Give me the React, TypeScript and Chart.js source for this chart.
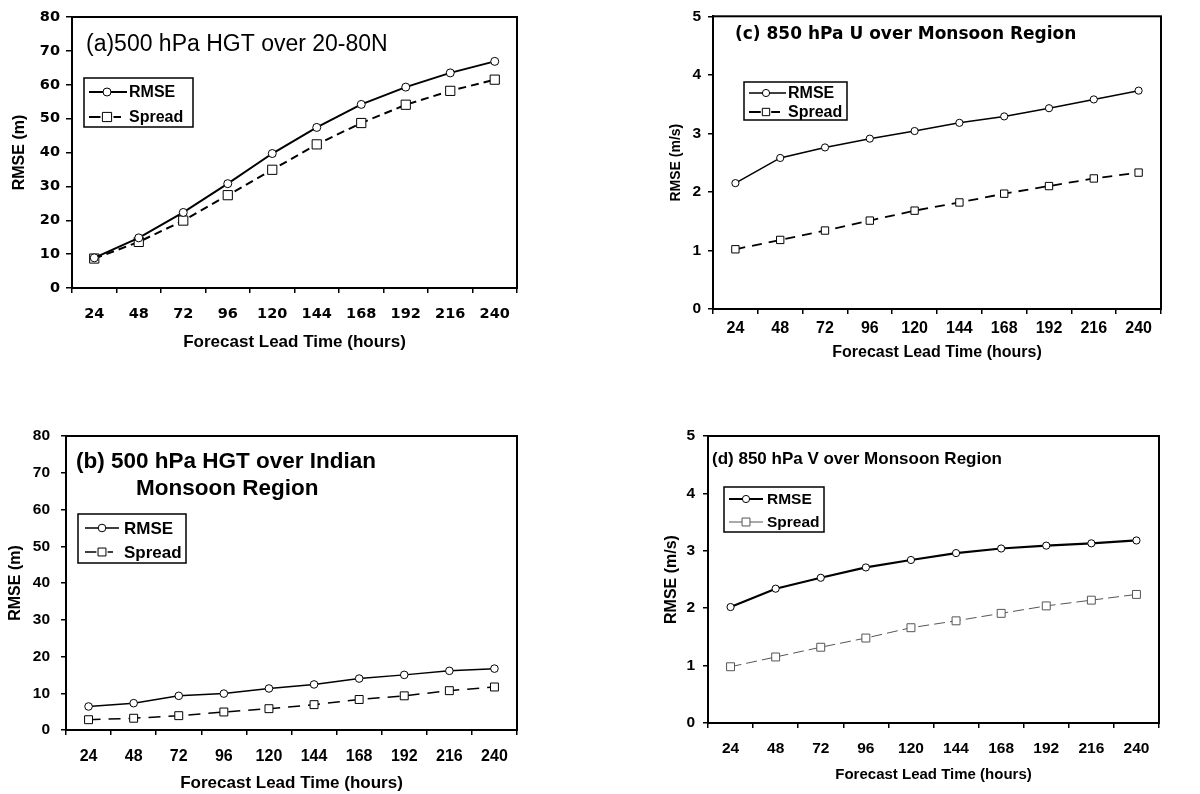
import React, { useEffect, useRef } from "react";
import { Chart, registerables } from "chart.js";

Chart.register(...registerables);

// ---------- data ----------
const leadTimes = ["24", "48", "72", "96", "120", "144", "168", "192", "216", "240"];

const rmseA = [8.9, 14.8, 22.3, 30.8, 39.7, 47.4, 54.2, 59.3, 63.5, 66.9];
const spreadA = [8.7, 13.6, 19.9, 27.4, 34.9, 42.4, 48.7, 54.1, 58.2, 61.5];

const rmseB = [6.4, 7.3, 9.3, 9.9, 11.3, 12.4, 14.0, 15.0, 16.1, 16.7];
const spreadB = [2.8, 3.2, 3.9, 4.9, 5.8, 6.9, 8.3, 9.3, 10.7, 11.7];

const rmseC = [2.15, 2.58, 2.76, 2.91, 3.04, 3.18, 3.29, 3.43, 3.58, 3.73];
const spreadC = [1.02, 1.18, 1.34, 1.51, 1.68, 1.82, 1.97, 2.1, 2.23, 2.33];

const rmseD = [2.02, 2.34, 2.53, 2.71, 2.84, 2.96, 3.04, 3.09, 3.13, 3.18];
const spreadD = [0.98, 1.15, 1.32, 1.48, 1.66, 1.78, 1.91, 2.04, 2.14, 2.24];

const hgtAxis = { min: 0, max: 80, step: 10 };
const windAxis = { min: 0, max: 5, step: 1 };

const seriesLabels = ["RMSE", "Spread"];
const xTitle = "Forecast Lead Time (hours)";

// ---------- layout / style ----------
const SANS = "'Liberation Sans', Arial, sans-serif";
const DJV = "'DejaVu Sans', sans-serif";

type Font = { family: string; size: number; weight: string };

interface PanelCfg {
  x: number; y: number; w: number; h: number;
  area: { L: number; T: number; R: number; B: number };
  axis: { min: number; max: number; step: number };
  rmse: number[]; spread: number[];
  yTitle: string;
  yTickFont: Font; yTickLen: number; yTickPad: number;
  yTitleFont: Font; yTitlePad: number;
  xTickFont: Font; xTickLen: number; xTickPad: number;
  xTitleFont: Font; xTitlePad: number;
  titleFont: string;
  titleLines: { text: string; x: number; y: number }[];
  legend: { x1: number; y1: number; x2: number; y2: number; rows: number[]; lx1: number; lx2: number; mx: number; tx: number; font: string; spreadFull: boolean };
  rmseStyle: { width: number; color: string; r: number };
  spreadStyle: { width: number; color: string; dash: number[]; r: number };
  frameWidth: number;
}

const f = (family: string, size: number, weight = "bold"): Font => ({ family, size, weight });

const panels: PanelCfg[] = [
  {
    x: 0, y: 0, w: 600, h: 400,
    area: { L: 72, T: 17, R: 517, B: 288 },
    axis: hgtAxis, rmse: rmseA, spread: spreadA,
    yTitle: "RMSE (m)",
    yTickFont: f(DJV, 14.5), yTickLen: 6, yTickPad: 6,
    yTitleFont: f(SANS, 16), yTitlePad: 10,
    xTickFont: f(DJV, 14.5), xTickLen: 5, xTickPad: 13,
    xTitleFont: f(SANS, 17), xTitlePad: 47,
    titleFont: `normal 23px ${SANS}`,
    titleLines: [{ text: "(a)500 hPa HGT over 20-80N", x: 86, y: 45 }],
    legend: { x1: 84, y1: 78, x2: 193, y2: 127, rows: [92, 117], lx1: 89, lx2: 127, mx: 107, tx: 129, font: `bold 16px ${SANS}`, spreadFull: false },
    rmseStyle: { width: 2, color: "#000", r: 4 },
    spreadStyle: { width: 2, color: "#000", dash: [8, 5], r: 6.5 },
    frameWidth: 2,
  },
  {
    x: 600, y: 0, w: 600, h: 400,
    area: { L: 713, T: 13, R: 1161, B: 309 },
    axis: windAxis, rmse: rmseC, spread: spreadC,
    yTitle: "RMSE (m/s)",
    yTickFont: f(SANS, 15.5), yTickLen: 5, yTickPad: 7,
    yTitleFont: f(SANS, 14), yTitlePad: 68,
    xTickFont: f(SANS, 16), xTickLen: 5, xTickPad: 5,
    xTitleFont: f(SANS, 16), xTitlePad: 38,
    titleFont: `bold 17px ${DJV}`,
    titleLines: [{ text: "(c) 850 hPa U over Monsoon Region", x: 735, y: 35 }],
    legend: { x1: 744, y1: 82, x2: 847, y2: 120, rows: [93, 112], lx1: 749, lx2: 786, mx: 766, tx: 788, font: `bold 16px ${SANS}`, spreadFull: false },
    rmseStyle: { width: 1.5, color: "#000", r: 3.6 },
    spreadStyle: { width: 1.8, color: "#000", dash: [10, 7], r: 5.2 },
    frameWidth: 2,
  },
  {
    x: 0, y: 400, w: 600, h: 394,
    area: { L: 66, T: 436, R: 517, B: 730 },
    axis: hgtAxis, rmse: rmseB, spread: spreadB,
    yTitle: "RMSE (m)",
    yTickFont: f(SANS, 15.5), yTickLen: 5, yTickPad: 11,
    yTitleFont: f(SANS, 16), yTitlePad: 6,
    xTickFont: f(SANS, 16), xTickLen: 5, xTickPad: 12,
    xTitleFont: f(SANS, 17), xTitlePad: 0,
    titleFont: `bold 22.5px ${SANS}`,
    titleLines: [
      { text: "(b) 500 hPa HGT over Indian", x: 76, y: 462 },
      { text: "Monsoon Region", x: 136, y: 489 },
    ],
    legend: { x1: 78, y1: 514, x2: 186, y2: 563, rows: [528, 552], lx1: 85, lx2: 119, mx: 102, tx: 124, font: `bold 17px ${SANS}`, spreadFull: false },
    rmseStyle: { width: 1.5, color: "#000", r: 3.8 },
    spreadStyle: { width: 1.5, color: "#000", dash: [12, 8], r: 5.6 },
    frameWidth: 2,
  },
  {
    x: 600, y: 400, w: 600, h: 394,
    area: { L: 708, T: 436, R: 1159, B: 723 },
    axis: windAxis, rmse: rmseD, spread: spreadD,
    yTitle: "RMSE (m/s)",
    yTickFont: f(SANS, 15.5), yTickLen: 5, yTickPad: 8,
    yTitleFont: f(SANS, 16), yTitlePad: 62,
    xTickFont: f(SANS, 15.5), xTickLen: 5, xTickPad: 11,
    xTitleFont: f(SANS, 15), xTitlePad: 10,
    titleFont: `bold 17px ${SANS}`,
    titleLines: [{ text: "(d) 850 hPa V over Monsoon Region", x: 712, y: 459 }],
    legend: { x1: 724, y1: 487, x2: 824, y2: 532, rows: [499, 522], lx1: 729, lx2: 763, mx: 746, tx: 767, font: `bold 15.5px ${SANS}`, spreadFull: true },
    rmseStyle: { width: 2.2, color: "#000", r: 3.6 },
    spreadStyle: { width: 1, color: "#555", dash: [11, 5], r: 5.6 },
    frameWidth: 2,
  },
];

function drawMarker(ctx: CanvasRenderingContext2D, kind: "circle" | "rect", x: number, y: number, r: number, color: string) {
  ctx.save();
  ctx.setLineDash([]);
  ctx.fillStyle = "#fff";
  ctx.strokeStyle = color;
  ctx.lineWidth = 1;
  ctx.beginPath();
  if (kind === "circle") {
    ctx.arc(x, y, r, 0, Math.PI * 2);
  } else {
    const s = r * Math.SQRT1_2;
    ctx.rect(x - s, y - s, 2 * s, 2 * s);
  }
  ctx.fill();
  ctx.stroke();
  ctx.restore();
}

function makeDecor(cfg: PanelCfg) {
  return {
    id: "decor",
    afterDraw(chart: any) {
      const ctx: CanvasRenderingContext2D = chart.ctx;
      const a = chart.chartArea;
      const ox = cfg.x, oy = cfg.y;
      ctx.save();
      // frame
      ctx.strokeStyle = "#000";
      ctx.lineWidth = cfg.frameWidth;
      ctx.setLineDash([]);
      ctx.strokeRect(a.left, a.top, a.right - a.left, a.bottom - a.top);
      // title
      ctx.fillStyle = "#000";
      ctx.textBaseline = "middle";
      ctx.textAlign = "left";
      ctx.font = cfg.titleFont;
      cfg.titleLines.forEach((t) => ctx.fillText(t.text, t.x - ox, t.y - oy));
      // legend
      const lg = cfg.legend;
      ctx.fillStyle = "#fff";
      ctx.fillRect(lg.x1 - ox, lg.y1 - oy, lg.x2 - lg.x1, lg.y2 - lg.y1);
      ctx.strokeStyle = "#000";
      ctx.lineWidth = 1.5;
      ctx.strokeRect(lg.x1 - ox, lg.y1 - oy, lg.x2 - lg.x1, lg.y2 - lg.y1);
      chart.data.datasets.forEach((ds: any, i: number) => {
        const y = lg.rows[i] - oy;
        ctx.strokeStyle = ds.borderColor;
        ctx.lineWidth = ds.borderWidth;
        ctx.setLineDash([]);
        ctx.beginPath();
        if (i === 0 || lg.spreadFull) {
          ctx.moveTo(lg.lx1 - ox, y);
          ctx.lineTo(lg.lx2 - ox, y);
        } else {
          const r = ds.pointRadius;
          ctx.moveTo(lg.lx1 - ox, y);
          ctx.lineTo(lg.mx - r - ox, y);
          ctx.moveTo(lg.mx + r - ox, y);
          ctx.lineTo(lg.lx2 - 6 - ox, y);
        }
        ctx.stroke();
        drawMarker(ctx, i === 0 ? "circle" : "rect", lg.mx - ox, y, ds.pointRadius, ds.borderColor);
        ctx.fillStyle = "#000";
        ctx.font = lg.font;
        ctx.textBaseline = "middle";
        ctx.fillText(ds.label, lg.tx - ox, y + 1);
      });
      ctx.restore();
    },
  };
}

function Panel({ cfg }: { cfg: PanelCfg }) {
  const ref = useRef<HTMLCanvasElement | null>(null);
  useEffect(() => {
    if (!ref.current) return;
    const A = cfg.area;
    const yWidth = A.L - cfg.x;
    const xHeight = cfg.y + cfg.h - A.B;
    const chart = new Chart(ref.current, {
      type: "line",
      data: {
        labels: leadTimes,
        datasets: [
          {
            label: seriesLabels[0],
            data: cfg.rmse,
            borderColor: cfg.rmseStyle.color,
            borderWidth: cfg.rmseStyle.width,
            pointStyle: "circle",
            pointRadius: cfg.rmseStyle.r,
            pointHoverRadius: cfg.rmseStyle.r,
            pointBackgroundColor: "#fff",
            pointBorderColor: cfg.rmseStyle.color,
            pointBorderWidth: 1,
            fill: false,
            tension: 0,
          },
          {
            label: seriesLabels[1],
            data: cfg.spread,
            borderColor: cfg.spreadStyle.color,
            borderWidth: cfg.spreadStyle.width,
            borderDash: cfg.spreadStyle.dash,
            pointStyle: "rect",
            pointRadius: cfg.spreadStyle.r,
            pointHoverRadius: cfg.spreadStyle.r,
            pointBackgroundColor: "#fff",
            pointBorderColor: cfg.spreadStyle.color,
            pointBorderWidth: 1,
            fill: false,
            tension: 0,
          },
        ],
      },
      options: {
        responsive: false,
        animation: false,
        devicePixelRatio: 1,
        layout: {
          padding: { left: 0, top: A.T - cfg.y, right: cfg.x + cfg.w - A.R, bottom: 0 },
        },
        plugins: {
          legend: { display: false },
          tooltip: { enabled: false },
          title: { display: false },
        },
        scales: {
          x: {
            type: "category",
            offset: true,
            grid: {
              offset: true,
              drawOnChartArea: false,
              drawTicks: true,
              tickLength: cfg.xTickLen,
              color: "#000",
              lineWidth: 1.5,
            },
            border: { display: true, color: "#000", width: 2 },
            ticks: {
              color: "#000",
              font: cfg.xTickFont,
              padding: cfg.xTickPad,
              maxRotation: 0,
              autoSkip: false,
            },
            title: {
              display: true,
              text: xTitle,
              color: "#000",
              font: cfg.xTitleFont,
              padding: { top: 0, bottom: cfg.xTitlePad },
            },
            afterFit: (s: any) => {
              s.height = xHeight;
            },
          },
          y: {
            type: "linear",
            min: cfg.axis.min,
            max: cfg.axis.max,
            grid: {
              drawOnChartArea: false,
              drawTicks: true,
              tickLength: cfg.yTickLen,
              color: "#000",
              lineWidth: 1.5,
            },
            border: { display: true, color: "#000", width: 2 },
            ticks: {
              stepSize: cfg.axis.step,
              color: "#000",
              font: cfg.yTickFont,
              padding: cfg.yTickPad,
            },
            title: {
              display: true,
              text: cfg.yTitle,
              color: "#000",
              font: cfg.yTitleFont,
              padding: { top: cfg.yTitlePad, bottom: 0 },
            },
            afterFit: (s: any) => {
              s.width = yWidth;
            },
          },
        },
      },
      plugins: [makeDecor(cfg)],
    } as any);
    return () => chart.destroy();
  }, [cfg]);
  return (
    <canvas
      ref={ref}
      width={cfg.w}
      height={cfg.h}
      style={{ position: "absolute", left: cfg.x, top: cfg.y, width: cfg.w, height: cfg.h }}
    />
  );
}

export default function App() {
  return (
    <div style={{ position: "absolute", left: 0, top: 0, width: 1200, height: 794, background: "#fff", overflow: "hidden" }}>
      {panels.map((p, i) => (
        <Panel key={i} cfg={p} />
      ))}
    </div>
  );
}
